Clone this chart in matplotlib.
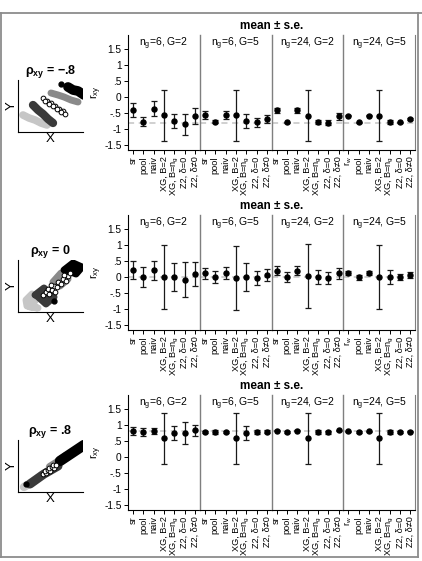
import matplotlib.pyplot as plt
from matplotlib.lines import Line2D

plt.rcParams['font.family'] = ['Liberation Sans', 'DejaVu Sans']
plt.rcParams['mathtext.fontset'] = 'custom'
plt.rcParams['mathtext.rm'] = 'Liberation Sans'
plt.rcParams['mathtext.it'] = 'Liberation Sans:italic'
plt.rcParams['mathtext.bf'] = 'Liberation Sans:bold'

methods = ['sr', 'pool', 'naiv', 'XG, B=2', 'XG, B=n$_\\mathrm{g}$', 'Z2, δ=0', 'Z2, δ≠0']
methods_last = ['r$_\\mathrm{w}$'] + methods[1:]
conditions = ['n$_\\mathrm{g}$=6, G=2', 'n$_\\mathrm{g}$=6, G=5',
              'n$_\\mathrm{g}$=24, G=2', 'n$_\\mathrm{g}$=24, G=5']
rho_labels = ['−.8', '0', '.8']
rho_true = [-0.8, 0.0, 0.8]
yticks = [-1.5, -1, -0.5, 0, 0.5, 1, 1.5]
ytick_labels = ['-1.5', '-1', '-.5', '0', '.5', '1', '1.5']

# mean and s.e. per condition (rows) and method (columns)
mean_neg = [[-0.40, -0.77, -0.37, -0.57, -0.75, -0.86, -0.60],
            [-0.57, -0.78, -0.57, -0.57, -0.75, -0.79, -0.69],
            [-0.42, -0.79, -0.42, -0.59, -0.78, -0.80, -0.61],
            [-0.58, -0.79, -0.58, -0.58, -0.79, -0.79, -0.69]]
se_neg = [[0.22, 0.14, 0.23, 0.80, 0.23, 0.34, 0.25],
          [0.12, 0.05, 0.13, 0.80, 0.23, 0.14, 0.12],
          [0.08, 0.02, 0.08, 0.80, 0.07, 0.09, 0.10],
          [0.02, 0.02, 0.02, 0.80, 0.06, 0.02, 0.02]]
mean_zero = [[0.21, 0.00, 0.21, 0.00, 0.00, -0.08, 0.10],
             [0.11, 0.00, 0.12, -0.02, 0.00, -0.02, 0.06],
             [0.20, 0.00, 0.20, 0.02, 0.00, -0.02, 0.11],
             [0.12, -0.01, 0.12, 0.00, 0.00, 0.00, 0.06]]
se_zero = [[0.28, 0.32, 0.29, 1.00, 0.45, 0.54, 0.38],
           [0.18, 0.20, 0.18, 1.00, 0.45, 0.22, 0.20],
           [0.15, 0.17, 0.15, 1.00, 0.21, 0.19, 0.17],
           [0.07, 0.08, 0.07, 0.99, 0.21, 0.10, 0.09]]
mean_pos = [[0.81, 0.78, 0.81, 0.58, 0.75, 0.74, 0.83],
            [0.79, 0.78, 0.79, 0.58, 0.75, 0.77, 0.79],
            [0.82, 0.78, 0.82, 0.58, 0.77, 0.77, 0.83],
            [0.80, 0.78, 0.80, 0.58, 0.77, 0.78, 0.79]]
se_pos = [[0.12, 0.13, 0.10, 0.80, 0.22, 0.34, 0.17],
          [0.03, 0.05, 0.03, 0.80, 0.22, 0.06, 0.05],
          [0.02, 0.02, 0.02, 0.80, 0.06, 0.04, 0.02],
          [0.02, 0.02, 0.02, 0.80, 0.06, 0.02, 0.02]]

# sketch of the clustered data (light, dark, medium, black groups)
grays = ['#c6c6c6', '#3a3a3a', '#8a8a8a', '#000000']
neg_x = [[5, 11, 17, 23, 29], [15, 20, 25, 30, 35], [33, 40, 46, 53, 60], [50, 55, 60, 66]]
neg_y = [[17, 14, 12, 9, 7], [27, 22, 18, 13, 9], [39, 37, 35, 32, 30], [45, 42, 41, 37]]
neg_open_x = [25, 29, 33, 37, 41, 45, 27, 31, 35, 39, 43, 47]
neg_open_y = [34, 31.5, 29, 26, 23.5, 21, 31, 28.5, 26, 23, 20.5, 18]
neg_dot = [43, 48]

zero_x = [[8, 14, 17, 12, 20, 9], [17, 26, 36, 28, 18], [35, 43, 50, 42, 35], [46, 55, 64, 58, 48]]
zero_y = [[12, 18, 11, 5, 4, 6], [17, 24, 15, 8, 17], [30, 39, 33, 26, 30], [42, 49, 45, 38, 42]]
zero_open_x = [25, 28, 31, 30, 34, 36, 33, 39, 40, 43, 45, 48, 50, 52, 37, 46]
zero_open_y = [17, 20, 18, 23, 22, 26, 27, 25, 30, 28, 33, 31, 36, 39, 20, 37]
zero_dot = [36, 11]

pos_x = [[6, 14, 24], [12, 26, 40], [32, 40, 48], [42, 54, 66]]
pos_y = [[5, 10, 17], [8, 18, 26], [25, 30, 36], [31, 39, 47]]
pos_open_x = [25, 28, 27, 30, 32, 31, 34, 36, 35, 38]
pos_open_y = [18, 19, 21, 22, 21, 24, 25, 24, 27, 27]
pos_dot = [8, 8]

W, H = 422, 561
fig = plt.figure(figsize=(W / 100, H / 100), dpi=100)


def box(l, t, r, b):
    return [l / W, 1 - b / H, (r - l) / W, (b - t) / H]


rows = [
    dict(mean=mean_neg, se=se_neg, top=35, bot=150, title_y=26,
         ins=(18, 80, 83, 132), bx=neg_x, by=neg_y, ox=neg_open_x, oy=neg_open_y,
         dot=neg_dot, kind='band', lw=[5.5, 6, 5, 7]),
    dict(mean=mean_zero, se=se_zero, top=215, bot=330, title_y=206,
         ins=(18, 260, 83, 312), bx=zero_x, by=zero_y, ox=zero_open_x, oy=zero_open_y,
         dot=zero_dot, kind='blob', lw=[5, 5, 5, 5]),
    dict(mean=mean_pos, se=se_pos, top=395, bot=510, title_y=386,
         ins=(18, 440, 83, 492), bx=pos_x, by=pos_y, ox=pos_open_x, oy=pos_open_y,
         dot=pos_dot, kind='band', lw=[6, 6.5, 6, 7.5]),
]

x0, x1 = 128, 415
fw = (x1 - x0) / 4
pos = list(range(1, 8))

for r, row in enumerate(rows):
    fig.text(((x0 + x1) / 2) / W, 1 - row['title_y'] / H, 'mean ± s.e.',
             ha='center', va='center', fontsize=8.5, fontweight='bold')
    for k in range(4):
        ax = fig.add_axes(box(x0 + k * fw, row['top'], x0 + (k + 1) * fw, row['bot']))
        ax.axhline(rho_true[r], color='#c4c4c4', lw=1.1, ls=(0, (4, 3)), zorder=1)
        ax.errorbar(pos, row['mean'][k], yerr=row['se'][k], fmt='o', ms=3.6,
                    color='black', ecolor='#1a1a1a', elinewidth=0.9,
                    capsize=2.2, capthick=0.9, zorder=3)
        ax.set_xlim(0.5, 7.45)
        ax.set_ylim(-1.66, 1.94)
        ax.set_xticks(pos)
        ax.set_xticklabels(methods_last if k == 3 else methods, rotation=90, fontsize=6.6)
        ax.tick_params(axis='x', length=3, width=0.7, pad=1.5)
        ax.spines['top'].set_visible(False)
        ax.spines['right'].set_visible(k == 3)
        ax.spines['right'].set_color('#7f7f7f')
        ax.spines['bottom'].set_linewidth(0.8)
        if k == 0:
            ax.set_yticks(yticks)
            ax.set_yticklabels(ytick_labels, fontsize=7.3)
            ax.tick_params(axis='y', length=3, width=0.7, pad=1.5)
            ax.set_ylabel('r$_\\mathrm{xy}$', fontsize=8, labelpad=0)
            ax.spines['left'].set_linewidth(0.8)
        else:
            ax.set_yticks([])
            ax.spines['left'].set_color('#7f7f7f')
            ax.spines['left'].set_linewidth(1.0)
        ax.text(0.5, 0.92, conditions[k], transform=ax.transAxes,
                ha='center', va='center', fontsize=7.5)

    # inset of the clustered data
    l, t, rr, b = row['ins']
    iax = fig.add_axes(box(l, t, rr, b))
    for c in range(4):
        if row['kind'] == 'band':
            iax.plot(row['bx'][c], row['by'][c], color=grays[c], lw=row['lw'][c],
                     solid_capstyle='round', solid_joinstyle='round', zorder=2 + c * 0.1)
        else:
            iax.fill(row['bx'][c], row['by'][c], color=grays[c], lw=row['lw'][c],
                     joinstyle='round', zorder=2 + c * 0.1)
    iax.plot(row['ox'], row['oy'], 'o', ms=3.4, mfc='white', mec='black', mew=0.7, zorder=3)
    iax.plot(*row['dot'], 'o', ms=3.5, color='black', zorder=3)
    iax.set_xlim(0, 65)
    iax.set_ylim(0, 52)
    iax.set_xticks([])
    iax.set_yticks([])
    iax.spines['top'].set_visible(False)
    iax.spines['right'].set_visible(False)
    iax.spines['left'].set_linewidth(0.8)
    iax.spines['bottom'].set_linewidth(0.8)
    iax.set_xlabel('X', fontsize=9.5, labelpad=1)
    iax.set_ylabel('Y', fontsize=9.5, labelpad=0)
    iax.set_title('ρ$_\\mathbf{xy}$ = ' + rho_labels[r], fontsize=9,
                  fontweight='bold', pad=3)

# grey frame around the figure
for xs, ys in [([0, W], [13, 13]), ([1, 1], [13, 557]), ([418, 418], [13, 557]),
               ([0, 418], [557, 557])]:
    fig.add_artist(Line2D([v / W for v in xs], [1 - v / H for v in ys],
                          color='#8c8c8c', lw=1.3))

fig.savefig('out.png', dpi=100)
